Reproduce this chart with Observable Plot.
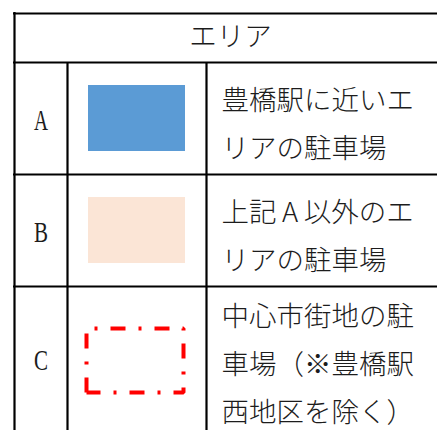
<!DOCTYPE html>
<html><head><meta charset="utf-8">
<script src="https://cdn.jsdelivr.net/npm/d3@7"></script>
<script src="https://cdn.jsdelivr.net/npm/@observablehq/plot@0.6"></script>
<style>html,body{margin:0;padding:0;background:#fff;overflow:hidden}</style>
</head><body><div id="chart"></div>
<script>
// ---- data ----
const headerLabel = "エリア";
const areaCodes = ["A", "B", "C"];
const areaDescriptions = [
  "豊橋駅に近いエ\nリアの駐車場",
  "上記\u2009A\u2009以外のエ\nリアの駐車場",
  "中心市街地の駐\n車場（※豊橋駅\n西地区を除く）"
];
const swatchKinds = ["fill", "fill", "dashed"];

// ---- styles / layout ----
const swatchColors = ["#5B9BD5", "#FBE5D6", "#FF0000"];
const W = 437, H = 430;
const colEdges = [14, 67, 206, W];
const rowEdges = [13, 62, 174, 286, H];
const jpFont = "'Noto Sans CJK JP', 'Noto Sans CJK SC', sans-serif";
const textColor = "#1c1c1c";

const rows = areaCodes.map((code, i) => {
  const top = rowEdges[i + 1], bottom = rowEdges[i + 2];
  return {code, desc: areaDescriptions[i], kind: swatchKinds[i], color: swatchColors[i], mid: (top + bottom) / 2};
});

// outline of the dashed swatch, traced from its bottom-left corner clockwise
const dashedOutline = rows.filter(d => d.kind === "dashed").flatMap(d => {
  const x1 = 86, x2 = 183, y1 = d.mid - 30, y2 = d.mid + 34;
  return [[x1, y2], [x1, y1], [x2, y1], [x2, y2], [x1, y2]].map(([x, y]) => ({x, y, color: d.color}));
});

const chart = Plot.plot({
  width: W,
  height: H,
  margin: 0,
  x: {domain: [0, W], range: [0, W], axis: null},
  y: {domain: [0, H], range: [0, H], axis: null},
  color: {type: "identity"},
  marks: [
    // swatches
    Plot.rect(rows.filter(d => d.kind === "fill"), {
      x1: () => 88, x2: () => 185,
      y1: d => d.mid - 33, y2: d => d.mid + 33,
      fill: d => d.color
    }),
    Plot.line(dashedOutline, {
      x: "x", y: "y", stroke: dashedOutline.length ? dashedOutline[0].color : "red",
      strokeWidth: 4, strokeLinejoin: "miter", strokeLinecap: "butt",
      strokeDasharray: "15,13,3,13", strokeDashoffset: 0
    }),
    // grid lines
    Plot.ruleY(rowEdges.slice(0, 4), {y: d => d, x1: () => colEdges[0] - 1, x2: () => W, stroke: "#000", strokeWidth: 2.2}),
    Plot.ruleX([colEdges[0]], {x: d => d, y1: () => rowEdges[0] - 1, y2: () => H, stroke: "#000", strokeWidth: 2.2}),
    Plot.ruleX(colEdges.slice(1, 3), {x: d => d, y1: () => rowEdges[1], y2: () => H, stroke: "#000", strokeWidth: 2.2}),
    // header
    Plot.text([headerLabel], {
      x: () => 230, y: () => 37, text: d => d,
      fontFamily: jpFont, fontSize: 27.5, fontWeight: 300, fill: textColor
    }),
    // codes
    Plot.text(rows, {
      x: () => (colEdges[0] + colEdges[1]) / 2, y: d => d.mid + 2.5, text: "code",
      fontFamily: "'Liberation Serif', serif", fontSize: 29, fill: textColor
    }),
    // descriptions
    Plot.text(rows, {
      x: () => 221, y: d => d.mid, text: "desc",
      textAnchor: "start", lineAnchor: "middle", lineHeight: 1.745,
      fontFamily: jpFont, fontSize: 27.5, fontWeight: 300, fill: textColor
    })
  ]
});
// condense the half-width code letters like the original's narrow serif glyphs
d3.select(chart).selectAll("text")
  .filter(function() { return areaCodes.includes(this.textContent); })
  .attr("textLength", 14)
  .attr("lengthAdjust", "spacingAndGlyphs");
document.getElementById("chart").appendChild(chart);
</script>
</body></html>
